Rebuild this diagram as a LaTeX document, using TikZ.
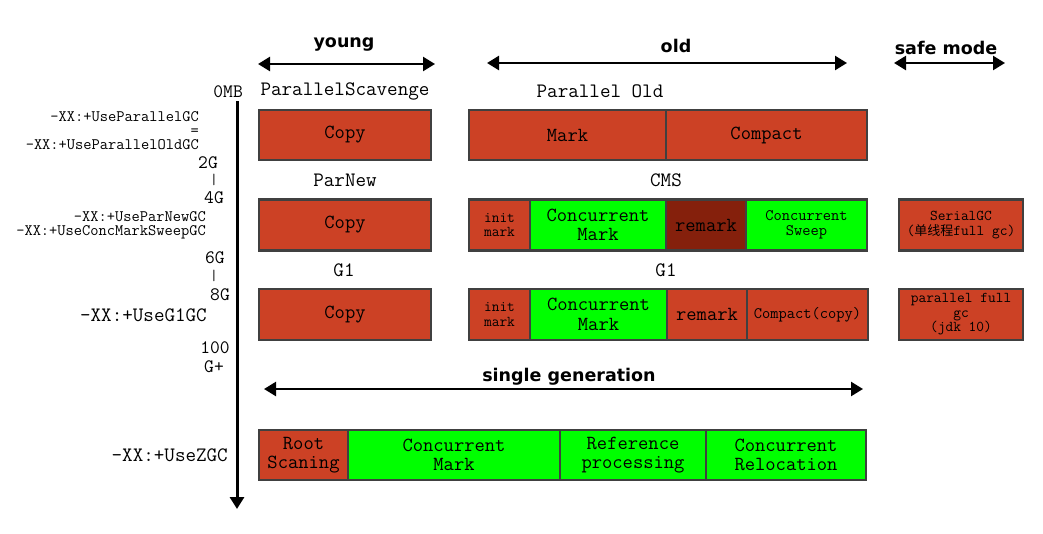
\documentclass[tikz,border=0pt]{standalone}
\usepackage{fontspec}
\newfontfamily\monof{Latin Modern Mono}
\newfontfamily\headf{DejaVu Sans}
\newfontfamily\cjkf{Noto Sans CJK SC}
\usetikzlibrary{arrows.meta}
\definecolor{gcred}{HTML}{CC4125}
\definecolor{gcdark}{HTML}{85200C}
\definecolor{gcgreen}{HTML}{00FF00}
\definecolor{gcborder}{HTML}{404040}
\tikzset{
  cell/.style={draw=gcborder, line width=2.2pt, inner sep=0pt, align=center, text=black},
  redcell/.style={cell, fill=gcred},
  greencell/.style={cell, fill=gcgreen},
  darkcell/.style={cell, fill=gcdark},
  big/.style={font=\monof\fontsize{20}{19.5}\selectfont},
  mid/.style={font=\monof\fontsize{16}{15.5}\selectfont},
  small/.style={font=\monof\fontsize{15}{14.5}\selectfont},
  axislbl/.style={font=\monof\fontsize{19}{18}\selectfont, inner sep=0pt},
  barlbl/.style={font=\monof\fontsize{15}{15}\selectfont, inner sep=0pt},
  flag/.style={font=\monof\fontsize{16}{14}\selectfont, inner sep=0pt, anchor=east, align=right},
  bigflag/.style={font=\monof\fontsize{20.5}{18}\selectfont, inner sep=0pt, anchor=east},
  rowlbl/.style={font=\monof\fontsize{20.5}{18}\selectfont, inner sep=0pt},
  head/.style={font=\headf\bfseries\fontsize{17.5}{18}\selectfont, inner sep=0pt},
  span/.style={line width=2.4pt, {Triangle[length=12pt,width=14pt]}-{Triangle[length=12pt,width=14pt]}},
}
\begin{document}
\begin{tikzpicture}[x=1pt,y=-1pt]
\useasboundingbox (0,0) rectangle (1043,533);

% headers
\node[head] (hyoung) at (344,44) {young};
\node[head] (hold) at (676,46) {old};
\node[head] (hsafe) at (946,48) {safe mode};
\coordinate (ya) at (258,64); \coordinate (yb) at (435,64);
\coordinate (oa) at (487,63); \coordinate (ob) at (847,63);
\coordinate (sa) at (894,63); \coordinate (sb) at (1005,63);
\draw[span] (ya) -- (yb);
\draw[span] (oa) -- (ob);
\draw[span] (sa) -- (sb);

% axis
\coordinate (axtop) at (237,101);
\coordinate (axbot) at (237,509);
\draw[line width=3pt, -{Triangle[length=12pt,width=14pt]}] (axtop) -- (axbot);

\node[axislbl, anchor=east] (l0) at (243,92) {0MB};
\node[flag] (f1) at (199,131) {-XX:+UseParallelGC\\=\\-XX:+UseParallelOldGC};
\node[axislbl] (l2) at (208,163) {2G};
\node[barlbl] (l2bar) at (214,180) {|};
\node[axislbl] (l4) at (214,198) {4G};
\node[flag] (f3) at (206,225) {-XX:+UseParNewGC\\-XX:+UseConcMarkSweepGC};
\node[axislbl] (l6) at (215,258) {6G};
\node[barlbl] (l6bar) at (214,276) {|};
\node[axislbl] (l8) at (220,295) {8G};
\node[bigflag] (f5) at (207,315) {-XX:+UseG1GC};
\node[axislbl] (l100) at (215,348) {100};
\node[axislbl] (lgp) at (214,367) {G+};
\node[bigflag] (f6) at (228,455) {-XX:+UseZGC};

% row labels
\node[rowlbl] (rl1) at (345,91) {ParallelScavenge};
\node[rowlbl] (rl2) at (600,91) {Parallel Old};
\node[rowlbl] (rl3) at (345,180) {ParNew};
\node[rowlbl] (rl4) at (666,180) {CMS};
\node[rowlbl] (rl5) at (344,270) {G1};
\node[rowlbl] (rl6) at (666,270) {G1};

% row 1
\node[redcell, big, minimum width=172, minimum height=50] (r1copy) at (345,135) {Copy};
\node[redcell, big, minimum width=197, minimum height=50] (r1mark) at (567.5,135) {Mark};
\node[redcell, big, minimum width=201, minimum height=50] (r1comp) at (766.5,135) {Compact};

% row 2
\node[redcell, big, minimum width=172, minimum height=51] (r2copy) at (345,225) {Copy};
\node[redcell, small, minimum width=61, minimum height=51] (r2init) at (499.5,225) {init\\mark};
\node[greencell, big, minimum width=136, minimum height=51] (r2cm) at (598,225) {Concurrent\\Mark};
\node[darkcell, big, minimum width=80, minimum height=51] (r2rem) at (706,225) {remark};
\node[greencell, mid, minimum width=121, minimum height=51] (r2cs) at (806.5,225) {Concurrent\\Sweep};
\node[redcell, small, minimum width=124, minimum height=51] (r2ser) at (961,225) {SerialGC\\({\cjkf\fontsize{13}{13}\selectfont 单线程}full gc)};

% row 3
\node[redcell, big, minimum width=172, minimum height=51] (r3copy) at (345,314.5) {Copy};
\node[redcell, small, minimum width=61, minimum height=51] (r3init) at (499.5,314.5) {init\\mark};
\node[greencell, big, minimum width=137, minimum height=51] (r3cm) at (598.5,314.5) {Concurrent\\Mark};
\node[redcell, big, minimum width=80, minimum height=51] (r3rem) at (707,314.5) {remark};
\node[redcell, mid, minimum width=121, minimum height=51] (r3cc) at (807.5,314.5) {Compact(copy)};
\node[redcell, small, minimum width=124, minimum height=51] (r3pf) at (961,314.5) {parallel full\\gc\\(jdk 10)};

% single generation
\node[head] (hsingle) at (569,377) {single generation};
\coordinate (ga) at (264,389); \coordinate (gb) at (863,389);
\draw[span] (ga) -- (gb);

% ZGC row
\node[redcell, big, minimum width=89, minimum height=50] (zroot) at (303.5,455) {Root\\Scaning};
\node[greencell, big, minimum width=212, minimum height=50] (zcm) at (454,455) {Concurrent\\Mark};
\node[greencell, big, minimum width=146, minimum height=50] (zref) at (633,455) {Reference\\processing};
\node[greencell, big, minimum width=160, minimum height=50] (zrel) at (786,455) {Concurrent\\Relocation};
\end{tikzpicture}
\end{document}
